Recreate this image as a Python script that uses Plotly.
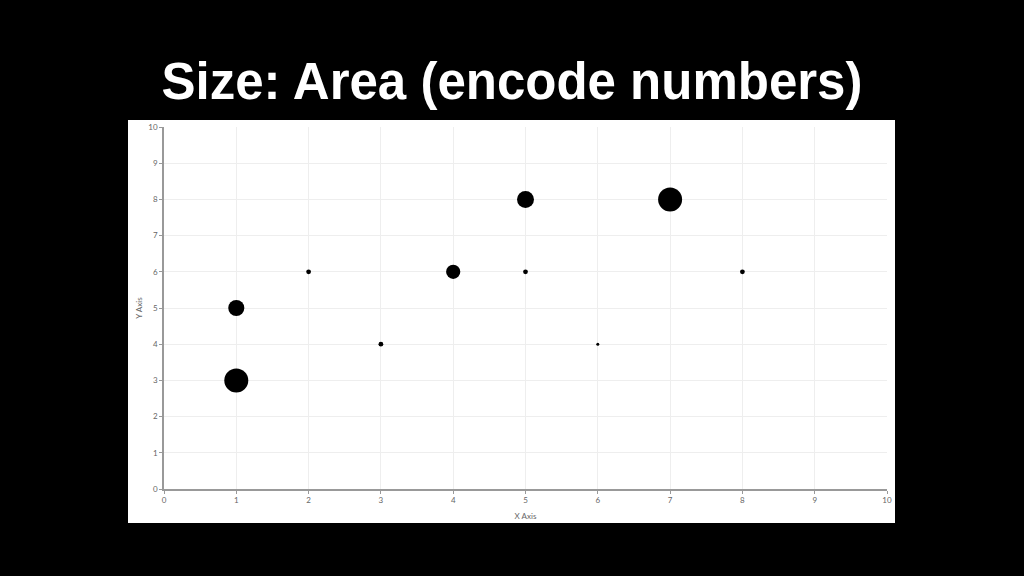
import plotly.graph_objects as go

x_vals = [1, 1, 2, 3, 4, 5, 5, 6, 7, 8]
y_vals = [3, 5, 6, 4, 6, 8, 6, 4, 8, 6]
size_vals = [100, 45, 4, 4, 35, 50, 4, 1, 100, 4]
tick_vals = list(range(0, 11))

W, H = 1024, 576
L, R, T, B = 164, 887, 127, 489

fig = go.Figure()
fig.add_trace(go.Scatter(
    x=x_vals, y=y_vals, mode="markers",
    marker=dict(size=size_vals, sizemode="area", sizeref=2 * max(size_vals) / 24 ** 2,
                sizemin=1.5, color="black", opacity=1, line=dict(width=0)),
    hoverinfo="x+y", showlegend=False,
))

fig.add_shape(type="rect", xref="paper", yref="paper",
              x0=(128 - L) / (R - L), x1=(895 - L) / (R - L),
              y0=(B - 523) / (B - T), y1=(B - 120) / (B - T),
              fillcolor="white", line=dict(width=0), layer="below")

small_font = dict(family="Lato, DejaVu Sans, sans-serif", size=8, color="#666666")

axis_common = dict(
    range=[0, 10], tickvals=tick_vals, showgrid=True, gridcolor="#eeeeee", gridwidth=1,
    zeroline=False, showline=True, linecolor="#999999", linewidth=1.5,
    ticks="outside", ticklen=3, tickcolor="#999999",
    tickfont=small_font,
)

fig.update_layout(
    width=W, height=H,
    paper_bgcolor="black", plot_bgcolor="white",
    margin=dict(l=L, r=W - R, t=T, b=H - B, pad=0),
    title=dict(text="<b>Size: Area (encode numbers)</b>", x=0.5, xanchor="center",
               y=1 - 81 / H, yanchor="middle", yref="container",
               font=dict(family="Liberation Sans, Arial, sans-serif", size=51, color="white")),
    xaxis=dict(title=dict(text="X Axis", font=small_font, standoff=9), **axis_common),
    yaxis=dict(title=dict(text="Y Axis", font=small_font, standoff=5), **axis_common),
)

fig.write_html("out.html", config={"displayModeBar": False},
               post_script="document.body.style.margin='0';document.body.style.background='black';")
